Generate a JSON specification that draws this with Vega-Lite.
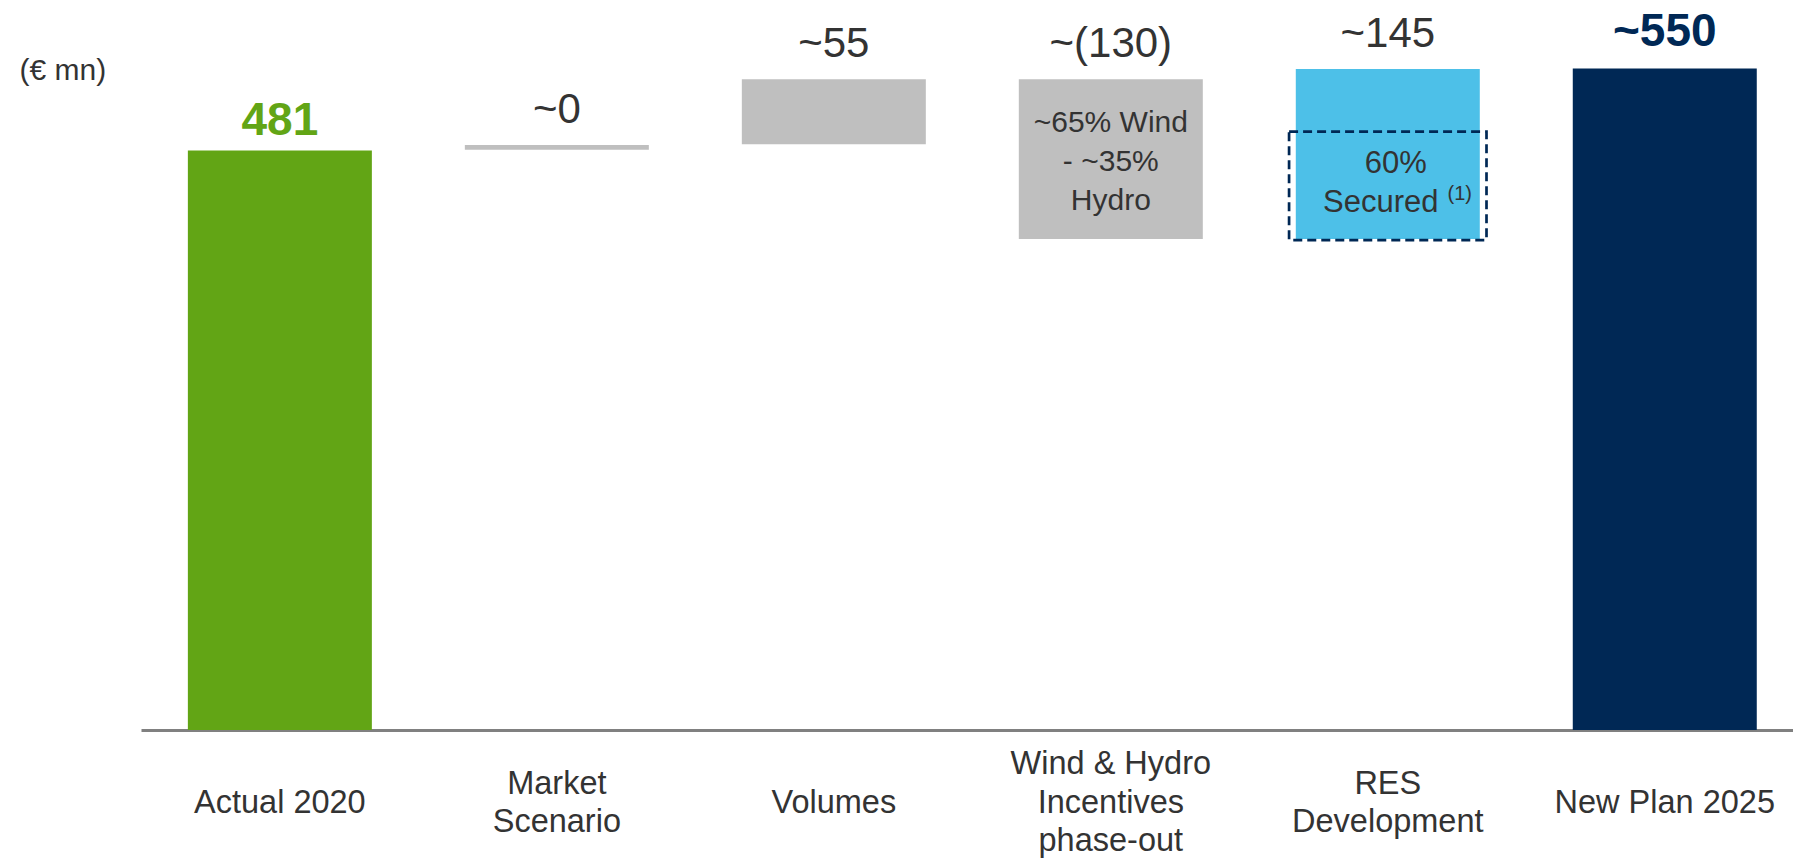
{
  "$schema": "https://vega.github.io/schema/vega-lite/v6.json",
  "width": 1652,
  "height": 723,
  "autosize": {"type": "none"},
  "padding": {"left": 141, "top": 7, "right": 0, "bottom": 136},
  "background": "white",
  "config": {"view": {"stroke": null}, "font": "Liberation Sans"},
  "datasets": {
    "bars": [
      {"cat": "Actual 2020", "start": 0, "end": 481, "kind": "total", "label": "481", "lines": 1},
      {"cat": "Market\nScenario", "start": 481.5, "end": 485.5, "kind": "change", "label": "~0", "lines": 2},
      {"cat": "Volumes", "start": 486, "end": 540, "kind": "change", "label": "~55", "lines": 1},
      {"cat": "Wind & Hydro\nIncentives\nphase-out", "start": 407.5, "end": 540, "kind": "change", "label": "~(130)", "lines": 3},
      {"cat": "RES\nDevelopment", "start": 407.5, "end": 548.5, "kind": "res", "label": "~145", "lines": 2},
      {"cat": "New Plan 2025", "start": 0, "end": 549, "kind": "plan", "label": "~550", "lines": 1}
    ],
    "box": [
      {"cat": "RES\nDevelopment", "lo": 406.6, "hi": 496.5}
    ],
    "notes": [
      {"cat": "Wind & Hydro\nIncentives\nphase-out", "y": 496.5, "text": "~65% Wind\n- ~35%\nHydro", "id": "wind"},
      {"cat": "RES\nDevelopment", "y": 462.0, "text": "60%", "id": "p60"},
      {"cat": "RES\nDevelopment", "y": 430.1, "text": "Secured", "id": "sec"},
      {"cat": "RES\nDevelopment", "y": 439.5, "text": "(1)", "id": "fn"}
    ]
  },
  "data": {"name": "bars"},
  "encoding": {
    "x": {
      "field": "cat",
      "type": "nominal",
      "sort": null,
      "scale": {
        "domain": ["Actual 2020", "Market\nScenario", "Volumes", "Wind & Hydro\nIncentives\nphase-out", "RES\nDevelopment", "New Plan 2025"],
        "paddingInner": 0.3357,
        "paddingOuter": 0.15,
        "align": 0.564
      },
      "axis": {
        "title": null,
        "orient": "bottom",
        "domain": true,
        "domainColor": "#808080",
        "domainWidth": 3,
        "ticks": false,
        "tickSize": 0,
        "grid": false,
        "labels": false
      }
    }
  },
  "layer": [
    {
      "mark": {"type": "bar"},
      "encoding": {
        "y": {
          "field": "end",
          "type": "quantitative",
          "scale": {"domain": [0, 600], "nice": false, "zero": true},
          "axis": {
            "title": "(€ mn)",
            "domain": false,
            "ticks": false,
            "labels": false,
            "grid": false,
            "titleAngle": 0,
            "titleAlign": "left",
            "titleBaseline": "alphabetic",
            "titleX": -122,
            "titleY": 72,
            "titleFont": "Liberation Sans",
            "titleFontSize": 30,
            "titleFontWeight": "normal",
            "titleColor": "#333333"
          }
        },
        "y2": {"field": "start"},
        "color": {
          "field": "kind",
          "type": "nominal",
          "scale": {"domain": ["total", "change", "res", "plan"], "range": ["#62a515", "#bfbfbf", "#4dc0e8", "#002855"]},
          "legend": null
        }
      }
    },
    {
      "data": {"name": "box"},
      "mark": {"type": "bar", "fill": "transparent", "stroke": "#002855", "strokeWidth": 2.7, "strokeDash": [9, 5], "width": {"band": 1.073}},
      "encoding": {
        "y": {"field": "hi", "type": "quantitative"},
        "y2": {"field": "lo"}
      }
    },
    {
      "transform": [{"filter": "datum.kind == 'change' || datum.kind == 'res'"}],
      "mark": {"type": "text", "fontSize": 42, "color": "#333333", "baseline": "alphabetic", "align": "center", "dy": -22},
      "encoding": {
        "y": {"field": "end", "type": "quantitative"},
        "text": {"field": "label"}
      }
    },
    {
      "transform": [{"filter": "datum.kind == 'total'"}],
      "mark": {"type": "text", "fontSize": 46, "fontWeight": "bold", "color": "#62a515", "baseline": "alphabetic", "align": "center", "dy": -15},
      "encoding": {
        "y": {"field": "end", "type": "quantitative"},
        "text": {"field": "label"}
      }
    },
    {
      "transform": [{"filter": "datum.kind == 'plan'"}],
      "mark": {"type": "text", "fontSize": 46, "fontWeight": "bold", "color": "#002855", "baseline": "alphabetic", "align": "center", "dy": -22},
      "encoding": {
        "y": {"field": "end", "type": "quantitative"},
        "text": {"field": "label"}
      }
    },
    {
      "transform": [{"filter": "datum.lines == 1"}],
      "mark": {"type": "text", "fontSize": 32.5, "color": "#333333", "baseline": "alphabetic", "align": "center", "lineBreak": "\n", "lineHeight": 38.5, "dy": 83},
      "encoding": {
        "y": {"datum": 0, "type": "quantitative"},
        "text": {"field": "cat"}
      }
    },
    {
      "transform": [{"filter": "datum.lines == 2"}],
      "mark": {"type": "text", "fontSize": 32.5, "color": "#333333", "baseline": "alphabetic", "align": "center", "lineBreak": "\n", "lineHeight": 38, "dy": 64},
      "encoding": {
        "y": {"datum": 0, "type": "quantitative"},
        "text": {"field": "cat"}
      }
    },
    {
      "transform": [{"filter": "datum.lines == 3"}],
      "mark": {"type": "text", "fontSize": 32.5, "color": "#333333", "baseline": "alphabetic", "align": "center", "lineBreak": "\n", "lineHeight": 38.5, "dy": 44},
      "encoding": {
        "y": {"datum": 0, "type": "quantitative"},
        "text": {"field": "cat"}
      }
    },
    {
      "data": {"name": "notes"},
      "transform": [{"filter": "datum.id == 'wind'"}],
      "mark": {"type": "text", "fontSize": 30, "color": "#333333", "baseline": "alphabetic", "align": "center", "lineBreak": "\n", "lineHeight": 39},
      "encoding": {
        "y": {"field": "y", "type": "quantitative"},
        "text": {"field": "text"}
      }
    },
    {
      "data": {"name": "notes"},
      "transform": [{"filter": "datum.id == 'p60'"}],
      "mark": {"type": "text", "fontSize": 31, "color": "#333333", "baseline": "alphabetic", "align": "center", "dx": 8},
      "encoding": {
        "y": {"field": "y", "type": "quantitative"},
        "text": {"field": "text"}
      }
    },
    {
      "data": {"name": "notes"},
      "transform": [{"filter": "datum.id == 'sec'"}],
      "mark": {"type": "text", "fontSize": 31, "color": "#333333", "baseline": "alphabetic", "align": "center", "dx": -7},
      "encoding": {
        "y": {"field": "y", "type": "quantitative"},
        "text": {"field": "text"}
      }
    },
    {
      "data": {"name": "notes"},
      "transform": [{"filter": "datum.id == 'fn'"}],
      "mark": {"type": "text", "fontSize": 20, "color": "#333333", "baseline": "alphabetic", "align": "center", "dx": 72},
      "encoding": {
        "y": {"field": "y", "type": "quantitative"},
        "text": {"field": "text"}
      }
    }
  ]
}
